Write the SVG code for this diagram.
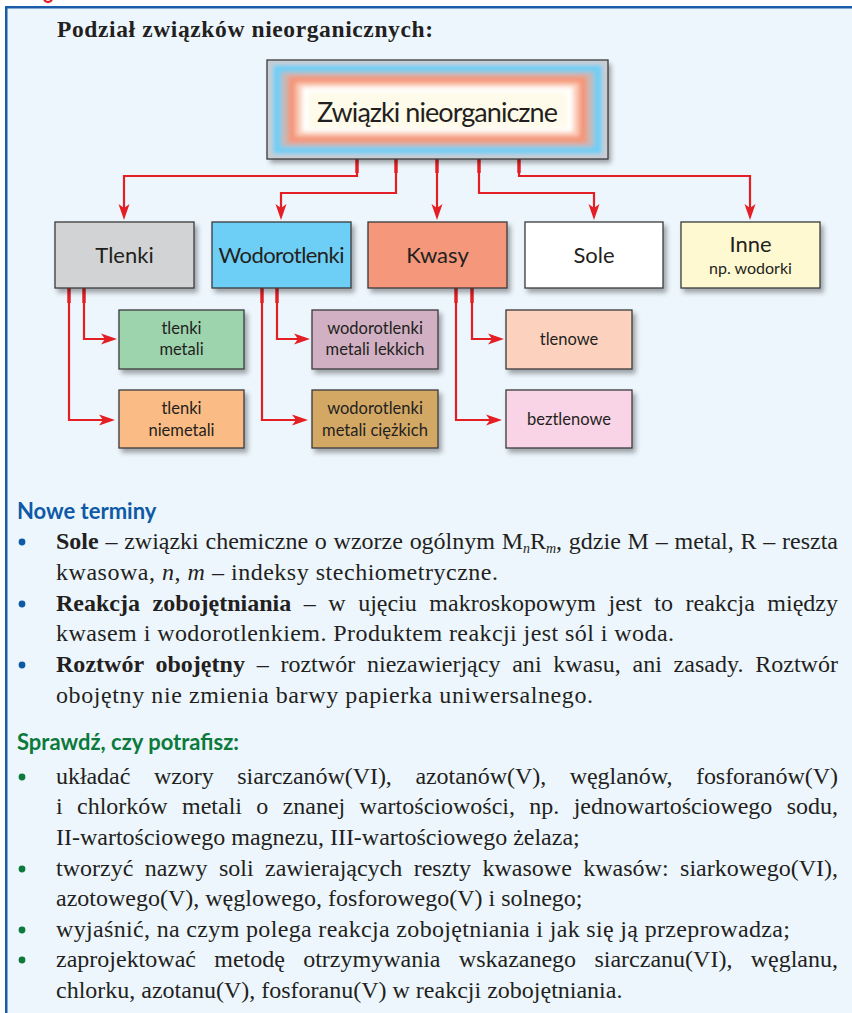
<svg xmlns="http://www.w3.org/2000/svg" width="852" height="1013" viewBox="0 0 852 1013">
<defs>
<style>
.box{stroke:#3b3a3c;stroke-width:1.3;filter:url(#sh)}
.lbl{font-family:Lato,"Open Sans","Noto Sans",sans-serif;fill:#231f20;text-anchor:middle}
.big{font-size:22px}
.sm{font-size:16.5px}
.con{fill:none;stroke:#e31e24;stroke-width:2.2;marker-end:url(#ah)}
.stub{fill:#e31e24}
.body{font-family:"Liberation Serif","Times New Roman",serif;font-size:24px;fill:#231f20}
.b{font-weight:bold}
.sub{font-style:italic;font-size:14px}
.hd{font-family:Lato,"Open Sans","Noto Sans",sans-serif;font-weight:bold;font-size:22px}
.blue{fill:#0e5aa7}
.green{fill:#0b7a3b}
</style>
<filter id="sh" x="-10%" y="-10%" width="130%" height="140%">
<feDropShadow dx="3" dy="4" stdDeviation="2.5" flood-color="#000" flood-opacity="0.35"/>
</filter>
<filter id="bl" x="-5%" y="-5%" width="110%" height="110%"><feGaussianBlur stdDeviation="2.2"/></filter>
<clipPath id="mclip"><rect x="267" y="60" width="341" height="99"/></clipPath>
<marker id="ah" markerUnits="userSpaceOnUse" markerWidth="16" markerHeight="12" viewBox="0 0 16 12" refX="10" refY="6" orient="auto">
<path d="M0,0.5 L16,6 L0,11.5 L4,6 z" fill="#e31e24"/>
</marker>
</defs>

<rect x="0" y="0" width="852" height="1013" fill="#ffffff"/>
<rect x="6" y="7" width="846" height="1006" fill="#edf6fd"/>
<rect x="5" y="6" width="847" height="2.5" fill="#1b5ca9"/>
<rect x="5" y="6" width="2.5" height="1007" fill="#1b5ca9"/>
<path d="M44,0 Q48,4 52,0" fill="none" stroke="#e31e24" stroke-width="2.2"/>

<text x="57" y="37" font-family="'Liberation Serif','Times New Roman',serif" font-weight="bold" font-size="23.5" fill="#231f20" textLength="376">Podział związków nieorganicznych:</text>

<g id="connectors">
<path class="con" d="M357,159 V176 H124 V214"/>
<path class="con" d="M396,159 V193 H281 V214"/>
<path class="con" d="M437,159 V214"/>
<path class="con" d="M479,159 V193 H594 V214"/>
<path class="con" d="M519,159 V176 H750 V214"/>
<rect class="stub" x="355.3" y="159" width="3.4" height="14"/>
<rect class="stub" x="394.3" y="159" width="3.4" height="14"/>
<rect class="stub" x="435.3" y="159" width="3.4" height="14"/>
<rect class="stub" x="477.3" y="159" width="3.4" height="14"/>
<rect class="stub" x="517.3" y="159" width="3.4" height="14"/>

<path class="con" d="M84,288 V339 H111"/>
<path class="con" d="M69,288 V420 H109"/>
<path class="con" d="M277,288 V339 H304"/>
<path class="con" d="M262,288 V420 H302"/>
<path class="con" d="M472,288 V339 H498"/>
<path class="con" d="M456,288 V420 H496"/>
<rect class="stub" x="82.3" y="288" width="3.4" height="15"/>
<rect class="stub" x="67.3" y="288" width="3.4" height="15"/>
<rect class="stub" x="275.3" y="288" width="3.4" height="15"/>
<rect class="stub" x="260.3" y="288" width="3.4" height="15"/>
<rect class="stub" x="470.3" y="288" width="3.4" height="15"/>
<rect class="stub" x="454.3" y="288" width="3.4" height="15"/>
</g>

<g id="main">
<rect x="267" y="60" width="341" height="99" fill="#c9cdd3" filter="url(#sh)"/>
<g clip-path="url(#mclip)">
<g filter="url(#bl)">
<rect x="267" y="60" width="341" height="99" fill="#c9cdd3"/>
<rect x="273" y="65" width="329" height="89" fill="#6dcff6"/>
<rect x="281" y="72" width="313" height="75" fill="#c4b9b8"/>
<rect x="288" y="76" width="299" height="67" fill="#f4977a"/>
<rect x="296" y="83" width="283" height="53" fill="#fbcdb8"/>
<rect x="302" y="87" width="271" height="45" fill="#ffffff"/>
<rect x="308" y="92" width="259" height="36" fill="#fffbea"/>
</g>
</g>
<rect x="267" y="60" width="341" height="99" fill="none" stroke="#3b3a3c" stroke-width="1.3"/>
<text class="lbl" x="437.5" y="122" font-size="27" textLength="241">Związki nieorganiczne</text>
</g>

<g id="tlenki">
<rect class="box" x="55" y="222" width="139" height="66" fill="#d1d3d4"/>
<text class="lbl big" x="124.5" y="263">Tlenki</text>
</g>
<g id="wodorotlenki">
<rect class="box" x="212" y="222" width="139" height="66" fill="#6dcff6"/>
<text class="lbl big" x="281.5" y="263" textLength="126">Wodorotlenki</text>
</g>
<g id="kwasy">
<rect class="box" x="368" y="222" width="139" height="66" fill="#f4977a"/>
<text class="lbl big" x="437.5" y="263">Kwasy</text>
</g>
<g id="sole">
<rect class="box" x="525" y="222" width="138" height="66" fill="#ffffff"/>
<text class="lbl big" x="594" y="263">Sole</text>
</g>
<g id="inne">
<rect class="box" x="681" y="222" width="139" height="66" fill="#fff9d2"/>
<text class="lbl big" x="750.5" y="252">Inne</text>
<text class="lbl" x="750.5" y="274" font-size="16">np. wodorki</text>
</g>

<g id="tlenki-metali">
<rect class="box" x="119" y="310" width="125" height="59" fill="#9dd3ad"/>
<text class="lbl sm" x="181.5" y="334">tlenki</text>
<text class="lbl sm" x="181.5" y="355">metali</text>
</g>
<g id="tlenki-niemetali">
<rect class="box" x="119" y="390" width="125" height="58" fill="#fbbb84"/>
<text class="lbl sm" x="181.5" y="414">tlenki</text>
<text class="lbl sm" x="181.5" y="436">niemetali</text>
</g>
<g id="wodorotlenki-lekkich">
<rect class="box" x="312" y="310" width="126" height="59" fill="#d0b0c2"/>
<text class="lbl sm" x="375" y="334">wodorotlenki</text>
<text class="lbl sm" x="375" y="355">metali lekkich</text>
</g>
<g id="wodorotlenki-ciezkich">
<rect class="box" x="312" y="390" width="126" height="58" fill="#d3a865"/>
<text class="lbl sm" x="375" y="414">wodorotlenki</text>
<text class="lbl sm" x="375" y="436">metali ciężkich</text>
</g>
<g id="tlenowe">
<rect class="box" x="506" y="310" width="126" height="59" fill="#fcd2be"/>
<text class="lbl sm" x="569" y="345">tlenowe</text>
</g>
<g id="beztlenowe">
<rect class="box" x="506" y="390" width="126" height="58" fill="#f9d3e6"/>
<text class="lbl sm" x="569" y="425">beztlenowe</text>
</g>

<g id="nowe-terminy">
<text class="hd blue" x="17" y="519">Nowe terminy</text>
<circle class="blue" cx="22" cy="542" r="3.4"/>
<circle class="blue" cx="22" cy="604" r="3.4"/>
<circle class="blue" cx="22" cy="665" r="3.4"/>
<text class="body" x="56" y="549" textLength="782" word-spacing="0.8"><tspan class="b">Sole</tspan> – związki chemiczne o wzorze ogólnym M<tspan class="sub" dy="4">n</tspan><tspan dy="-4">R</tspan><tspan class="sub" dy="4">m</tspan><tspan dy="-4">, gdzie M – metal, R – reszta</tspan></text>
<text class="body" x="56" y="580" textLength="442">kwasowa, <tspan font-style="italic">n</tspan>, <tspan font-style="italic">m</tspan> – indeksy stechiometryczne.</text>
<text class="body" x="56" y="611" textLength="782" word-spacing="6.5"><tspan class="b">Reakcja zobojętniania</tspan> – w ujęciu makroskopowym jest to reakcja między</text>
<text class="body" x="56" y="641" textLength="618">kwasem i wodorotlenkiem. Produktem reakcji jest sól i woda.</text>
<text class="body" x="56" y="672" textLength="782" word-spacing="5.7"><tspan class="b">Roztwór obojętny</tspan> – roztwór niezawierjący ani kwasu, ani zasady. Roztwór</text>
<text class="body" x="56" y="703" textLength="537">obojętny nie zmienia barwy papierka uniwersalnego.</text>
</g>

<g id="sprawdz">
<text class="hd green" x="17" y="750">Sprawdź, czy potrafisz:</text>
<circle class="green" cx="22" cy="777" r="3.4"/>
<circle class="green" cx="22" cy="869" r="3.4"/>
<circle class="green" cx="22" cy="930" r="3.4"/>
<circle class="green" cx="22" cy="960" r="3.4"/>
<text class="body" x="56" y="784" textLength="782" word-spacing="17.7">układać wzory siarczanów(VI), azotanów(V), węglanów, fosforanów(V)</text>
<text class="body" x="56" y="814" textLength="782" word-spacing="8.3">i chlorków metali o znanej wartościowości, np. jednowartościowego sodu,</text>
<text class="body" x="56" y="845">II-wartościowego magnezu, III-wartościowego żelaza;</text>
<text class="body" x="56" y="876" textLength="782" word-spacing="5.5">tworzyć nazwy soli zawierających reszty kwasowe kwasów: siarkowego(VI),</text>
<text class="body" x="56" y="906">azotowego(V), węglowego, fosforowego(V) i solnego;</text>
<text class="body" x="56" y="937" textLength="734">wyjaśnić, na czym polega reakcja zobojętniania i jak się ją przeprowadza;</text>
<text class="body" x="56" y="967" textLength="782" word-spacing="12.3">zaprojektować metodę otrzymywania wskazanego siarczanu(VI), węglanu,</text>
<text class="body" x="56" y="998">chlorku, azotanu(V), fosforanu(V) w reakcji zobojętniania.</text>
</g>
</svg>
